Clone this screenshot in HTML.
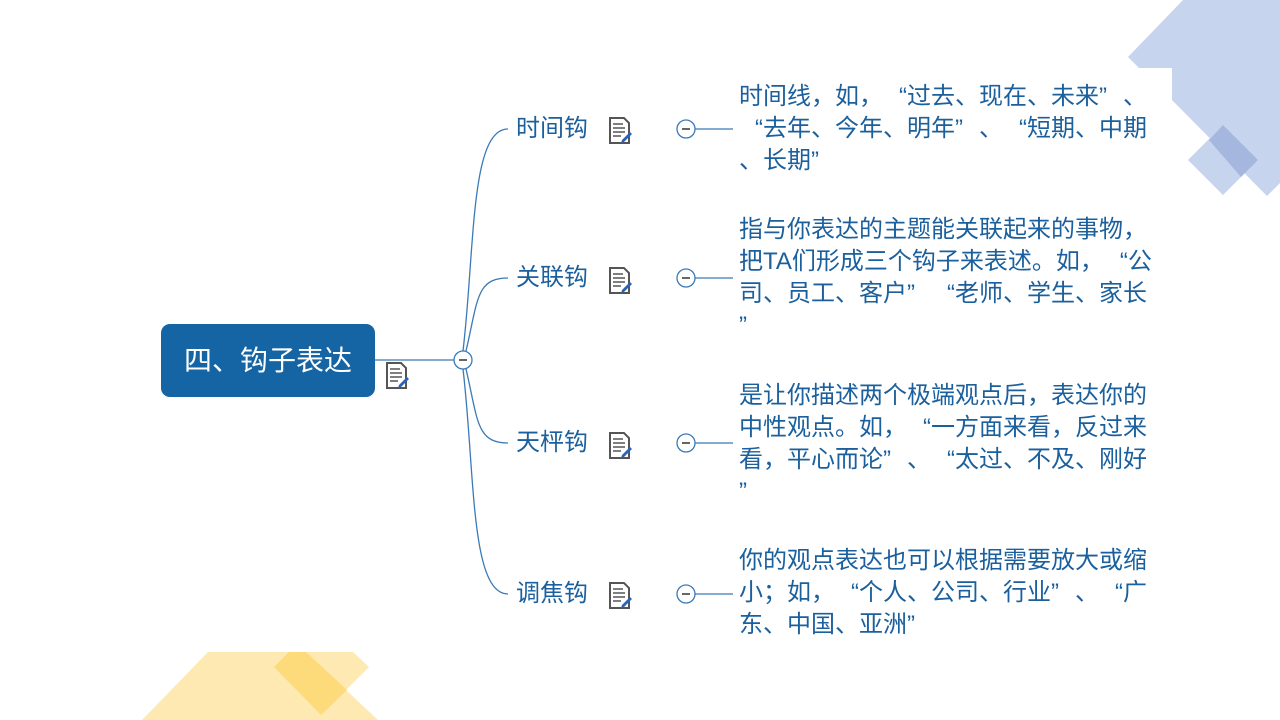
<!DOCTYPE html>
<html><head><meta charset="utf-8"><style>
body{margin:0;width:1280px;height:720px;position:relative;overflow:hidden;background:#fff;font-family:"Liberation Sans","Noto Sans CJK SC",sans-serif;}
.t{position:absolute;font-size:24px;line-height:32px;color:#1b609d;white-space:nowrap;}
.l{position:absolute;font-size:24px;line-height:32px;color:#1b609d;white-space:nowrap;}
.o{display:inline-block;width:24px;text-align:right;}
.c{display:inline-block;width:24px;text-align:left;}
.root{position:absolute;left:161px;top:324px;width:214px;height:73px;background:#1565a5;border-radius:9px;color:#fff;font-size:28px;line-height:73px;text-align:center;}
</style></head><body>
<svg width="1280" height="720" style="position:absolute;left:0;top:0">
<defs>
<g id="note">
<path d="M0 0h14l5 5v20H0z" fill="#fff" stroke="#555" stroke-width="2"/>
<path d="M3 6h10M3 10h12M3 14h12M3 18h8" stroke="#555" stroke-width="1.5"/>
<path d="M12 22l8-8 2 2-8 8-3 1z" fill="#2a62b8"/>
</g>
</defs>
<polygon points="1183,0 1280,0 1280,183 1267,196 1172,100 1172,68 1139,68 1128,57" fill="#c7d4ee"/>
<polygon points="1223,125 1258,160 1223,195 1188,160" fill="#c7d4ee"/>
<polygon points="1223,125 1258,160 1241,177 1209,140" fill="#a5b7df"/>
<polygon points="142,720 208,652 353,652 369,667 346,690 378,720" fill="#fde9b1"/>
<polygon points="274,667 289,652 306,652 347,690 321,715" fill="#fddb7a"/>
<g fill="none" stroke="#3b7ab8" stroke-width="1.3">
<line x1="375" y1="360" x2="454" y2="360"/>
<path d="M463 351 C475 250 470 129 508 129"/>
<path d="M466 351 C478 300 476 278 508 278"/>
<path d="M466 369 C478 420 476 443 508 443"/>
<path d="M463 369 C475 470 470 594 508 594"/>
<line x1="695" y1="129" x2="733" y2="129"/>
<line x1="695" y1="278" x2="733" y2="278"/>
<line x1="695" y1="443" x2="733" y2="443"/>
<line x1="695" y1="594" x2="733" y2="594"/>
</g>
<g fill="#fff" stroke="#3b7ab8" stroke-width="1.3">
<circle cx="463" cy="360" r="9"/>
<circle cx="686" cy="129" r="9"/><circle cx="686" cy="278" r="9"/><circle cx="686" cy="443" r="9"/><circle cx="686" cy="594" r="9"/>
</g>
<g stroke="#333" stroke-width="1.5">
<line x1="459" y1="360" x2="467" y2="360"/>
<line x1="682" y1="129" x2="690" y2="129"/><line x1="682" y1="278" x2="690" y2="278"/><line x1="682" y1="443" x2="690" y2="443"/><line x1="682" y1="594" x2="690" y2="594"/>
</g>
<use href="#note" x="387" y="363"/>
<use href="#note" x="610" y="118"/>
<use href="#note" x="610" y="268"/>
<use href="#note" x="610" y="433"/>
<use href="#note" x="610" y="583"/>
</svg>
<div class="root">四、钩子表达</div>
<div class="l" style="left:516px;top:113px">时间钩</div>
<div class="l" style="left:516px;top:262px">关联钩</div>
<div class="l" style="left:516px;top:427px">天枰钩</div>
<div class="l" style="left:516px;top:578px">调焦钩</div>

<div class="t" style="left:739px;top:81px">时间线，如，<span class="o">“</span>过去、现在、未来<span class="c">”</span>、<br><span class="o">“</span>去年、今年、明年<span class="c">”</span>、<span class="o">“</span>短期、中期<br>、长期<span class="c">”</span></div>
<div class="t" style="left:739px;top:214px">指与你表达的主题能关联起来的事物，<br>把TA们形成三个钩子来表述。如，<span class="o">“</span>公<br>司、员工、客户<span class="c">”</span><span class="o">“</span>老师、学生、家长<br><span class="c">”</span></div>
<div class="t" style="left:739px;top:380px">是让你描述两个极端观点后，表达你的<br>中性观点。如，<span class="o">“</span>一方面来看，反过来<br>看，平心而论<span class="c">”</span>、<span class="o">“</span>太过、不及、刚好<br><span class="c">”</span></div>
<div class="t" style="left:739px;top:545px">你的观点表达也可以根据需要放大或缩<br>小；如，<span class="o">“</span>个人、公司、行业<span class="c">”</span>、<span class="o">“</span>广<br>东、中国、亚洲<span class="c">”</span></div>
</body></html>
